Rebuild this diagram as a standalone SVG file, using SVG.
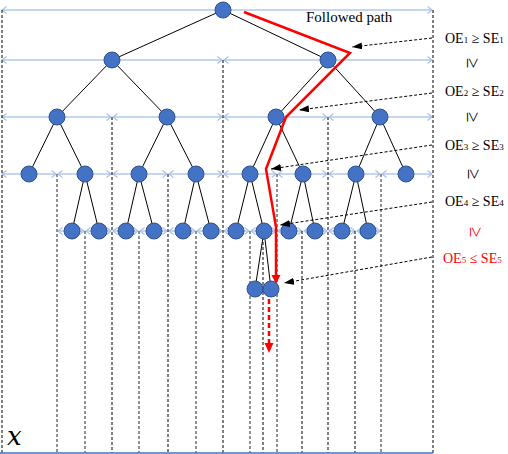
<svg xmlns="http://www.w3.org/2000/svg" width="508" height="454" viewBox="0 0 508 454">
<defs>
<marker id="chev" viewBox="-6 -5 7 10" refX="0" refY="0" markerWidth="7" markerHeight="10" markerUnits="userSpaceOnUse" orient="auto-start-reverse">
<path d="M-4.5,-3.5 L0,0 L-4.5,3.5" fill="none" stroke="#A9C1E8" stroke-width="1.2"/>
</marker>
<marker id="blk" viewBox="0 0 10 7" refX="10" refY="3.5" markerWidth="10" markerHeight="7" markerUnits="userSpaceOnUse" orient="auto">
<path d="M0,0 L10,3.5 L0,7 z" fill="#000"/>
</marker>
<style>
.row{stroke:#B4C7E7;stroke-width:1.5;fill:none;marker-start:url(#chev);marker-end:url(#chev)}
.vb{stroke:#000;stroke-width:1;stroke-dasharray:3 2;fill:none}
.vg{stroke:#6E6E6E;stroke-width:1.5;stroke-dasharray:3 2;fill:none}
.edge{stroke:#000;stroke-width:1;fill:none}
.node circle{fill:#4472C4;stroke:#2F528F;stroke-width:1}
.arr{stroke:#000;stroke-width:1;stroke-dasharray:3 2;fill:none;marker-end:url(#blk)}
.lbl{font-family:"Liberation Serif","Times New Roman",serif;font-size:14px;fill:#000}
.red{fill:#FF0000}
.sub{font-size:9px}
.rot{font-family:"Liberation Serif","Times New Roman",serif;font-size:19px;text-anchor:middle;dominant-baseline:central;fill:#000}
.rot.red{fill:#FF0000}
</style>
</defs>
<rect width="508" height="454" fill="#fff"/>

<g id="partition">
<line class="row" x1="2" y1="10" x2="432" y2="10"/>
<line class="row" x1="2" y1="60" x2="222" y2="60"/>
<line class="row" x1="224" y1="60" x2="432" y2="60"/>
<line class="row" x1="2" y1="117" x2="111" y2="117"/>
<line class="row" x1="113" y1="117" x2="222" y2="117"/>
<line class="row" x1="224" y1="117" x2="327" y2="117"/>
<line class="row" x1="329" y1="117" x2="432" y2="117"/>
<line class="row" x1="2" y1="174" x2="56" y2="174"/>
<line class="row" x1="58" y1="174" x2="111" y2="174"/>
<line class="row" x1="113" y1="174" x2="167" y2="174"/>
<line class="row" x1="169" y1="174" x2="222" y2="174"/>
<line class="row" x1="224" y1="174" x2="276" y2="174"/>
<line class="row" x1="278" y1="174" x2="327" y2="174"/>
<line class="row" x1="329" y1="174" x2="380" y2="174"/>
<line class="row" x1="382" y1="174" x2="432" y2="174"/>
<line class="row" x1="58" y1="231" x2="84" y2="231"/>
<line class="row" x1="86" y1="231" x2="111" y2="231"/>
<line class="row" x1="113" y1="231" x2="138" y2="231"/>
<line class="row" x1="140" y1="231" x2="167" y2="231"/>
<line class="row" x1="169" y1="231" x2="195" y2="231"/>
<line class="row" x1="197" y1="231" x2="222" y2="231"/>
<line class="row" x1="224" y1="231" x2="249" y2="231"/>
<line class="row" x1="251" y1="231" x2="276" y2="231"/>
<line class="row" x1="278" y1="231" x2="302" y2="231"/>
<line class="row" x1="304" y1="231" x2="327" y2="231"/>
<line class="row" x1="329" y1="231" x2="355" y2="231"/>
<line class="row" x1="357" y1="231" x2="380" y2="231"/>

<line class="vb" x1="2" y1="10" x2="2" y2="453"/>
<line class="vb" x1="433" y1="10" x2="433" y2="453"/>
<line class="vb" x1="223" y1="60" x2="223" y2="453"/>
<line class="vb" x1="112" y1="117" x2="112" y2="453"/>
<line class="vb" x1="328" y1="117" x2="328" y2="453"/>
<line class="vb" x1="168" y1="174" x2="168" y2="453"/>
<line class="vb" x1="302" y1="231" x2="302" y2="453"/>
<line class="vb" x1="355" y1="231" x2="355" y2="453"/>
<line class="vb" x1="263" y1="237" x2="263" y2="453"/>
<line class="vg" x1="57" y1="174" x2="57" y2="453"/>
<line class="vg" x1="277" y1="174" x2="277" y2="453"/>
<line class="vg" x1="381" y1="174" x2="381" y2="453"/>
<line class="vg" x1="85" y1="231" x2="85" y2="453"/>
<line class="vg" x1="139" y1="231" x2="139" y2="453"/>
<line class="vg" x1="196" y1="231" x2="196" y2="453"/>
<line class="vg" x1="250" y1="231" x2="250" y2="453"/>

<line x1="0" y1="453" x2="433" y2="453" stroke="#4472C4" stroke-width="1.5"/>
<text x="7" y="445" style="font-family:'DejaVu Serif','Liberation Serif',serif;font-style:italic;font-size:26px">x</text>
</g>

<g id="connectors">
<line class="edge" x1="223" y1="10" x2="112" y2="60"/>
<line class="edge" x1="223" y1="10" x2="328" y2="60"/>
<line class="edge" x1="112" y1="60" x2="57" y2="117"/>
<line class="edge" x1="112" y1="60" x2="167" y2="117"/>
<line class="edge" x1="328" y1="60" x2="276" y2="117"/>
<line class="edge" x1="328" y1="60" x2="380" y2="117"/>
<line class="edge" x1="57" y1="117" x2="29" y2="174"/>
<line class="edge" x1="57" y1="117" x2="85" y2="174"/>
<line class="edge" x1="167" y1="117" x2="139" y2="174"/>
<line class="edge" x1="167" y1="117" x2="196" y2="174"/>
<line class="edge" x1="276" y1="117" x2="250" y2="174"/>
<line class="edge" x1="276" y1="117" x2="303" y2="174"/>
<line class="edge" x1="380" y1="117" x2="356" y2="174"/>
<line class="edge" x1="380" y1="117" x2="406" y2="174"/>
<line class="edge" x1="85" y1="174" x2="72" y2="231"/>
<line class="edge" x1="85" y1="174" x2="99" y2="231"/>
<line class="edge" x1="139" y1="174" x2="126" y2="231"/>
<line class="edge" x1="139" y1="174" x2="154" y2="231"/>
<line class="edge" x1="196" y1="174" x2="183" y2="231"/>
<line class="edge" x1="196" y1="174" x2="211" y2="231"/>
<line class="edge" x1="250" y1="174" x2="236" y2="231"/>
<line class="edge" x1="250" y1="174" x2="264" y2="231"/>
<line class="edge" x1="303" y1="174" x2="289" y2="231"/>
<line class="edge" x1="303" y1="174" x2="315" y2="231"/>
<line class="edge" x1="356" y1="174" x2="342" y2="231"/>
<line class="edge" x1="356" y1="174" x2="368" y2="231"/>
<line class="edge" x1="264" y1="231" x2="255" y2="289"/>
<line class="edge" x1="264" y1="231" x2="271" y2="289"/>
</g>

<g id="n0" class="node"><circle cx="223" cy="10" r="8"/></g>
<g id="n1" class="node"><circle cx="112" cy="60" r="8"/></g>
<g id="n2" class="node"><circle cx="328" cy="60" r="8"/></g>
<g id="n3" class="node"><circle cx="57" cy="117" r="8"/></g>
<g id="n4" class="node"><circle cx="167" cy="117" r="8"/></g>
<g id="n5" class="node"><circle cx="276" cy="117" r="8"/></g>
<g id="n6" class="node"><circle cx="380" cy="117" r="8"/></g>
<g id="n7" class="node"><circle cx="29" cy="174" r="8"/></g>
<g id="n8" class="node"><circle cx="85" cy="174" r="8"/></g>
<g id="n9" class="node"><circle cx="139" cy="174" r="8"/></g>
<g id="n10" class="node"><circle cx="196" cy="174" r="8"/></g>
<g id="n11" class="node"><circle cx="250" cy="174" r="8"/></g>
<g id="n12" class="node"><circle cx="303" cy="174" r="8"/></g>
<g id="n13" class="node"><circle cx="356" cy="174" r="8"/></g>
<g id="n14" class="node"><circle cx="406" cy="174" r="8"/></g>
<g id="n15" class="node"><circle cx="72" cy="231" r="8"/></g>
<g id="n16" class="node"><circle cx="99" cy="231" r="8"/></g>
<g id="n17" class="node"><circle cx="126" cy="231" r="8"/></g>
<g id="n18" class="node"><circle cx="154" cy="231" r="8"/></g>
<g id="n19" class="node"><circle cx="183" cy="231" r="8"/></g>
<g id="n20" class="node"><circle cx="211" cy="231" r="8"/></g>
<g id="n21" class="node"><circle cx="236" cy="231" r="8"/></g>
<g id="n22" class="node"><circle cx="264" cy="231" r="8"/></g>
<g id="n23" class="node"><circle cx="289" cy="231" r="8"/></g>
<g id="n24" class="node"><circle cx="315" cy="231" r="8"/></g>
<g id="n25" class="node"><circle cx="342" cy="231" r="8"/></g>
<g id="n26" class="node"><circle cx="368" cy="231" r="8"/></g>
<g id="n27" class="node"><circle cx="255" cy="289" r="8"/></g>
<g id="n28" class="node"><circle cx="271" cy="289" r="8"/></g>

<g id="path">
<polyline points="244,12 350,53 286,117 266,169 276,227 276,276" fill="none" stroke="#FF0000" stroke-width="2.5" stroke-linejoin="miter"/>
<polygon points="271.5,275 280.5,275 276,284" fill="#FF0000"/>
<line x1="269" y1="299" x2="269" y2="344" stroke="#FF0000" stroke-width="2.5" stroke-dasharray="5 3"/>
<polygon points="264.5,343 273.5,343 269,353" fill="#FF0000"/>
<text class="lbl" x="306" y="22" style="font-size:15px">Followed path</text>
</g>

<g id="labels">
<line class="arr" x1="432" y1="38" x2="352" y2="47"/>
<line class="arr" x1="432" y1="93" x2="299" y2="110"/>
<line class="arr" x1="432" y1="145" x2="271" y2="169"/>
<line class="arr" x1="432" y1="202" x2="280" y2="225"/>
<line class="arr" x1="432" y1="257" x2="284" y2="283"/>
<text class="lbl" x="445" y="43">OE<tspan class="sub">1</tspan> ≥ SE<tspan class="sub">1</tspan></text>
<text class="rot" transform="translate(473,63) rotate(90)">≥</text>
<text class="lbl" x="445" y="96">OE<tspan class="sub">2</tspan> ≥ SE<tspan class="sub">2</tspan></text>
<text class="rot" transform="translate(473,117) rotate(90)">≥</text>
<text class="lbl" x="445" y="150">OE<tspan class="sub">3</tspan> ≥ SE<tspan class="sub">3</tspan></text>
<text class="rot" transform="translate(474,174) rotate(90)">≥</text>
<text class="lbl" x="445" y="206">OE<tspan class="sub">4</tspan> ≥ SE<tspan class="sub">4</tspan></text>
<text class="rot red" transform="translate(476,232) rotate(90)">≥</text>
<text class="lbl red" x="443" y="263">OE<tspan class="sub">5</tspan> ≤ SE<tspan class="sub">5</tspan></text>
</g>
</svg>
